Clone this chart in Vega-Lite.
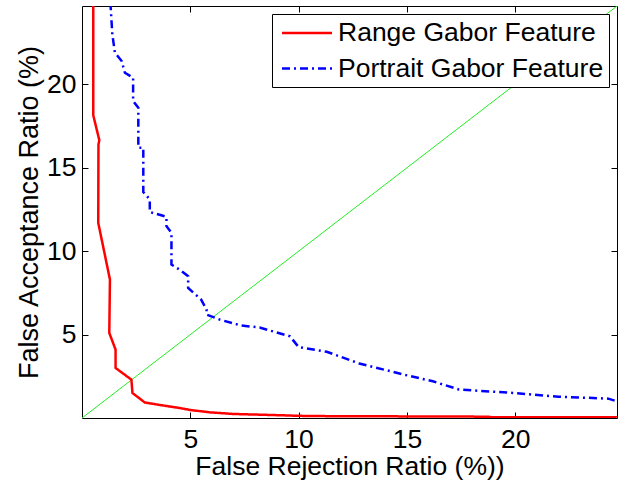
{
  "$schema": "https://vega.github.io/schema/vega-lite/v6.json",
  "width": 535,
  "height": 412,
  "autosize": {"type": "none"},
  "padding": {"left": 82, "top": 6, "right": 1, "bottom": 64},
  "background": "white",
  "config": {
    "view": {"stroke": "black", "strokeWidth": 1},
    "font": "Liberation Sans",
    "axis": {
      "grid": false,
      "domain": false,
      "tickColor": "black",
      "tickSize": -6,
      "tickWidth": 1,
      "labelFont": "Liberation Sans",
      "labelFontSize": 26.5,
      "labelColor": "black",
      "titleFont": "Liberation Sans",
      "titleFontSize": 26.5,
      "titleFontWeight": "normal",
      "titleColor": "black"
    },
    "legend": {
      "labelFont": "Liberation Sans",
      "labelFontSize": 26.5,
      "labelColor": "black",
      "labelLimit": 400
    }
  },
  "datasets": {
    "curves": [
      {"series": "Range Gabor Feature", "i": 0, "x": 0.52, "y": 26},
      {"series": "Range Gabor Feature", "i": 1, "x": 0.52, "y": 18.15},
      {"series": "Range Gabor Feature", "i": 2, "x": 0.8, "y": 16.65},
      {"series": "Range Gabor Feature", "i": 3, "x": 0.76, "y": 16.4},
      {"series": "Range Gabor Feature", "i": 4, "x": 0.75, "y": 11.7},
      {"series": "Range Gabor Feature", "i": 5, "x": 1.29, "y": 8.3},
      {"series": "Range Gabor Feature", "i": 6, "x": 1.26, "y": 5.1},
      {"series": "Range Gabor Feature", "i": 7, "x": 1.55, "y": 4.1},
      {"series": "Range Gabor Feature", "i": 8, "x": 1.55, "y": 3.0},
      {"series": "Range Gabor Feature", "i": 9, "x": 2.28, "y": 2.3},
      {"series": "Range Gabor Feature", "i": 10, "x": 2.33, "y": 1.5},
      {"series": "Range Gabor Feature", "i": 11, "x": 2.9, "y": 0.93},
      {"series": "Range Gabor Feature", "i": 12, "x": 3.6, "y": 0.78},
      {"series": "Range Gabor Feature", "i": 13, "x": 4.5, "y": 0.6},
      {"series": "Range Gabor Feature", "i": 14, "x": 5.0, "y": 0.48},
      {"series": "Range Gabor Feature", "i": 15, "x": 5.9, "y": 0.34},
      {"series": "Range Gabor Feature", "i": 16, "x": 7.0, "y": 0.24},
      {"series": "Range Gabor Feature", "i": 17, "x": 8.2, "y": 0.2},
      {"series": "Range Gabor Feature", "i": 18, "x": 9.3, "y": 0.16},
      {"series": "Range Gabor Feature", "i": 19, "x": 10.0, "y": 0.13},
      {"series": "Range Gabor Feature", "i": 20, "x": 11.4, "y": 0.11},
      {"series": "Range Gabor Feature", "i": 21, "x": 14.0, "y": 0.1},
      {"series": "Range Gabor Feature", "i": 22, "x": 18.7, "y": 0.08},
      {"series": "Range Gabor Feature", "i": 23, "x": 19.0, "y": 0.04},
      {"series": "Range Gabor Feature", "i": 24, "x": 24.7, "y": 0.04},
      {"series": "Portrait Gabor Feature", "i": 0, "x": 1.26, "y": 26},
      {"series": "Portrait Gabor Feature", "i": 1, "x": 1.4, "y": 23.0},
      {"series": "Portrait Gabor Feature", "i": 2, "x": 1.52, "y": 21.9},
      {"series": "Portrait Gabor Feature", "i": 3, "x": 1.83, "y": 21.4},
      {"series": "Portrait Gabor Feature", "i": 4, "x": 1.98, "y": 20.7},
      {"series": "Portrait Gabor Feature", "i": 5, "x": 2.36, "y": 20.4},
      {"series": "Portrait Gabor Feature", "i": 6, "x": 2.36, "y": 19.0},
      {"series": "Portrait Gabor Feature", "i": 7, "x": 2.6, "y": 18.6},
      {"series": "Portrait Gabor Feature", "i": 8, "x": 2.6, "y": 16.2},
      {"series": "Portrait Gabor Feature", "i": 9, "x": 2.83, "y": 16.2},
      {"series": "Portrait Gabor Feature", "i": 10, "x": 2.83, "y": 13.55},
      {"series": "Portrait Gabor Feature", "i": 11, "x": 3.13, "y": 13.1},
      {"series": "Portrait Gabor Feature", "i": 12, "x": 3.13, "y": 12.35},
      {"series": "Portrait Gabor Feature", "i": 13, "x": 3.9, "y": 12.06},
      {"series": "Portrait Gabor Feature", "i": 14, "x": 3.9, "y": 11.5},
      {"series": "Portrait Gabor Feature", "i": 15, "x": 4.13, "y": 11.1},
      {"series": "Portrait Gabor Feature", "i": 16, "x": 4.13, "y": 9.2},
      {"series": "Portrait Gabor Feature", "i": 17, "x": 4.5, "y": 8.9},
      {"series": "Portrait Gabor Feature", "i": 18, "x": 4.9, "y": 8.5},
      {"series": "Portrait Gabor Feature", "i": 19, "x": 4.9, "y": 7.8},
      {"series": "Portrait Gabor Feature", "i": 20, "x": 5.5, "y": 7.1},
      {"series": "Portrait Gabor Feature", "i": 21, "x": 5.75, "y": 6.5},
      {"series": "Portrait Gabor Feature", "i": 22, "x": 5.75, "y": 6.2},
      {"series": "Portrait Gabor Feature", "i": 23, "x": 6.36, "y": 5.9},
      {"series": "Portrait Gabor Feature", "i": 24, "x": 7.3, "y": 5.56},
      {"series": "Portrait Gabor Feature", "i": 25, "x": 8.2, "y": 5.42},
      {"series": "Portrait Gabor Feature", "i": 26, "x": 9.6, "y": 4.9},
      {"series": "Portrait Gabor Feature", "i": 27, "x": 10.0, "y": 4.25},
      {"series": "Portrait Gabor Feature", "i": 28, "x": 11.3, "y": 3.97},
      {"series": "Portrait Gabor Feature", "i": 29, "x": 12.8, "y": 3.27},
      {"series": "Portrait Gabor Feature", "i": 30, "x": 14.96, "y": 2.57},
      {"series": "Portrait Gabor Feature", "i": 31, "x": 16.2, "y": 2.2},
      {"series": "Portrait Gabor Feature", "i": 32, "x": 17.4, "y": 1.71},
      {"series": "Portrait Gabor Feature", "i": 33, "x": 19.9, "y": 1.5},
      {"series": "Portrait Gabor Feature", "i": 34, "x": 22.0, "y": 1.28},
      {"series": "Portrait Gabor Feature", "i": 35, "x": 24.3, "y": 1.16},
      {"series": "Portrait Gabor Feature", "i": 36, "x": 24.7, "y": 1.0}
    ],
    "diag": [
      {"x": 0, "y": 0},
      {"x": 24.7, "y": 24.7}
    ]
  },
  "layer": [
    {
      "data": {"name": "diag"},
      "mark": {"type": "line", "color": "#22ee22", "strokeWidth": 1, "clip": true},
      "encoding": {
        "x": {"field": "x", "type": "quantitative", "scale": {"domain": [0, 24.7], "nice": false, "zero": false},
              "axis": {"orient": "top", "labels": false, "title": null, "values": [5, 10, 15, 20]}},
        "y": {"field": "y", "type": "quantitative", "scale": {"domain": [0, 24.7], "nice": false, "zero": false},
              "axis": {"orient": "right", "labels": false, "title": null, "values": [5, 10, 15, 20]}}
      }
    },
    {
      "data": {"name": "curves"},
      "mark": {"type": "line", "strokeWidth": 2.5, "clip": true},
      "encoding": {
        "x": {"field": "x", "type": "quantitative", "scale": {"domain": [0, 24.7], "nice": false, "zero": false},
              "axis": {"orient": "bottom", "title": "False Rejection Ratio (%))", "values": [5, 10, 15, 20], "labelPadding": 14, "titlePadding": 1}},
        "y": {"field": "y", "type": "quantitative", "scale": {"domain": [0, 24.7], "nice": false, "zero": false},
              "axis": {"orient": "left", "title": "False Acceptance Ratio (%)", "titleFontSize": 27, "values": [5, 10, 15, 20], "labelPadding": 12, "titlePadding": 3}},
        "order": {"field": "i", "type": "quantitative"},
        "color": {
          "field": "series", "type": "nominal",
          "scale": {"domain": ["Range Gabor Feature", "Portrait Gabor Feature"], "range": ["#ff0000", "#0000ff"]},
          "legend": {
            "title": null, "orient": "none", "legendX": 190, "legendY": 8,
            "symbolType": "M-0.72,0L3.28,0", "symbolSize": 625, "symbolStrokeWidth": 2.5,
            "labelOffset": 33, "rowPadding": 7.5, "padding": 5,
            "strokeColor": "black", "fillColor": "white", "cornerRadius": 0
          }
        },
        "strokeDash": {
          "field": "series", "type": "nominal",
          "scale": {"domain": ["Range Gabor Feature", "Portrait Gabor Feature"], "range": [[1, 0], [8, 4, 2, 4]]},
          "legend": {
            "title": null, "orient": "none", "legendX": 190, "legendY": 8,
            "symbolType": "M-0.72,0L3.28,0", "symbolSize": 625, "symbolStrokeWidth": 2.5,
            "labelOffset": 33, "rowPadding": 7.5, "padding": 5,
            "strokeColor": "black", "fillColor": "white", "cornerRadius": 0
          }
        }
      }
    }
  ]
}
